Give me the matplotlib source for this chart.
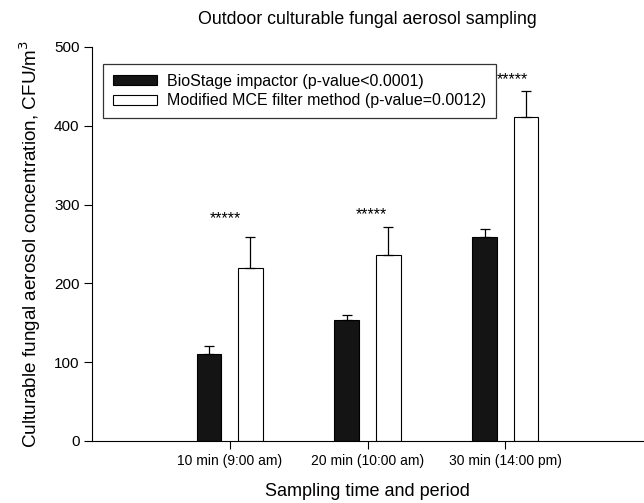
import matplotlib
matplotlib.use("Agg")
import matplotlib.pyplot as plt
import numpy as np

plt.rcParams['font.family'] = ['Liberation Sans', 'DejaVu Sans']

categories = ["10 min (9:00 am)", "20 min (10:00 am)", "30 min (14:00 pm)"]
biostage = [111, 153.5, 258.5]
biostage_err = [10, 7, 10]
mce = [219.5, 236.5, 411]
mce_err = [40, 35, 33.5]
star_x = [0.965, 2.025, 3.053]
star_y = [282, 287, 458]
star_label = "*****"

fig = plt.figure(figsize=(6.44, 5.03), dpi=100)
ax = fig.add_axes([92/644, 62/503, (643-92)/644, (441-47)/503])

x = np.arange(1, len(categories) + 1)
w = 0.18
off = 0.15
ax.bar(x - off, biostage, w, color='#141414', edgecolor='black', linewidth=0.8,
       label='BioStage impactor (p-value<0.0001)')
ax.bar(x + off, mce, w, color='white', edgecolor='black', linewidth=0.8,
       label='Modified MCE filter method (p-value=0.0012)')
ax.errorbar(x - off, biostage, yerr=[np.zeros(3), biostage_err], fmt='none',
            ecolor='black', elinewidth=0.9, capsize=3.3, capthick=0.9)
ax.errorbar(x + off, mce, yerr=[np.zeros(3), mce_err], fmt='none',
            ecolor='black', elinewidth=0.9, capsize=3.3, capthick=0.9)

for sx, sy in zip(star_x, star_y):
    ax.text(sx, sy, star_label, ha='center', va='center', fontsize=11.5, zorder=10)

ax.set_xlim(0, 4)
ax.set_ylim(0, 500)
ax.set_xticks(x)
ax.set_xticklabels(categories, fontsize=10)
ax.set_yticks([0, 100, 200, 300, 400, 500])
ax.tick_params(axis='both', direction='out', length=5.5, width=0.8, labelsize=10)
ax.tick_params(axis='y', labelsize=11)
ax.spines['top'].set_visible(False)
ax.spines['right'].set_visible(False)

ax.set_xlabel("Sampling time and period", fontsize=13, labelpad=11)
ax.set_ylabel("Culturable fungal aerosol concentration, CFU/m$^3$", fontsize=13.6, labelpad=8)
fig.text((92+643)/2/644, 1 - 20/503, "Outdoor culturable fungal aerosol sampling",
         ha='center', va='center', fontsize=12.8)

leg = ax.legend(loc='upper left', bbox_to_anchor=(0.02, 0.957), borderaxespad=0,
                fontsize=11.5, frameon=True, fancybox=False, edgecolor='black',
                handlelength=2.8, handleheight=0.6, borderpad=0.6, labelspacing=0.3,
                handletextpad=0.6)
leg.get_frame().set_linewidth(0.9)

fig.savefig("out.png", dpi=100)
